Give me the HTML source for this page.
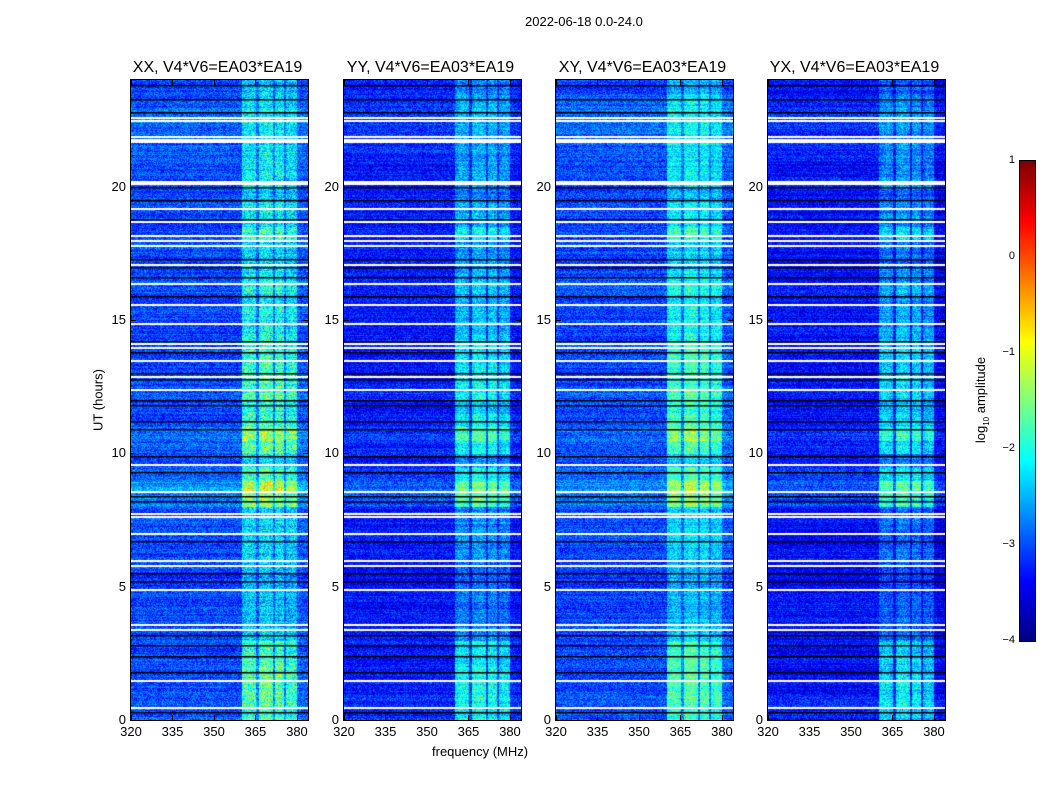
<!DOCTYPE html>
<html><head><meta charset="utf-8">
<style>
body{margin:0;background:#fff;font-family:"Liberation Sans",sans-serif;}
#root{position:relative;width:1050px;height:800px;overflow:hidden;background:#fff;}
.t{position:absolute;font-size:13px;color:#000;white-space:nowrap;}
.title{position:absolute;font-size:16px;white-space:nowrap;transform:translateX(-50%);}
canvas{position:absolute;}
</style></head>
<body><div id="root">
<div class="t" style="left:525px;top:14px;">2022-06-18 0.0-24.0</div>
<div class="t" style="left:432px;top:744px;">frequency (MHz)</div>
<div class="t" style="left:98px;top:400px;transform:translate(-50%,-50%) rotate(-90deg);">UT (hours)</div>
<div class="t" style="left:982px;top:400px;transform:translate(-50%,-50%) rotate(-90deg);">log<sub style="font-size:8px">10</sub> amplitude</div>
</div>
<script>
// ---- data ----
const pols = ["XX","YY","XY","YX"];
const polBg = [-3.05,-3.3,-3.05,-3.35];
const polBand = [0,-0.1,0,-0.2];
// frequency bins: 320..383 MHz, 1 MHz each, band offset above background
const freqBand = [0,0,0,0,0,0,0,0,0,0,0,0,0,0,0,0,0,0,0,0,0,0,0,0,0,0,0,0,0,0,0,0,0,0,0,0,0,0,0,0,
  1.1,1.2,1.2,1.2,1.1,0.3,1.2,1.3,1.3,1.3,1.2,0.3,1.2,1.25,1.2,0.3,1.0,1.1,1.1,1.0,0.15,0.1,0.1,0.05];
// time profile, half-hour steps from 0h to 24h
const bandTime = [0.9,1.0,1.1,1.1,1.0,1.0,0.6,0.5,0.5,0.5,0.5,0.5,0.6,0.6,0.6,0.6,1.1,1.2,0.9,0.6,1.0,1.2,1.0,0.9,
  1.0,1.0,1.0,1.0,0.9,0.8,0.8,0.7,0.8,0.7,0.6,0.6,1.0,0.7,0.7,0.5,0.7,0.7,0.6,0.6,0.6,0.6,0.6,0.5];
const bgTime = [0.1,0.1,0,0,0,0,0,0,0,0,-0.1,0,0,0,0,0,0.3,0.4,0.2,0,0.1,0.2,0,0,0.1,0,0,0,0,0,0,0,0.1,0,0,0,0,0,0,0,0,0,0.1,0.1,0.2,0.2,0.1,0];
const whiteGaps = [0.5,1.5,3.4,3.6,4.9,5.8,6.0,7.0,7.65,7.75,8.6,9.6,12.4,12.9,13.5,14.0,14.15,14.9,15.6,16.4,17.1,17.8,18.0,18.2,18.7,19.2,20.15,20.2,21.7,21.8,21.9,22.5,22.6];
const blackLines = [0.3,1.8,2.4,2.8,3.2,5.2,5.5,6.7,8.2,8.4,9.3,9.6,9.9,10.9,11.2,11.8,12.0,12.8,13.0,13.8,14.2,15.9,16.6,17.0,17.3,18.8,19.5,20.0,22.8,23.3,23.8];
const xTicks = [320,335,350,365,380];
const yTicks = [0,5,10,15,20];
const cbTicks = [1,0,-1,-2,-3,-4];
// ---- layout ----
const root=document.getElementById('root');
const panelX=[131,344,556,768], PW=177, PT=80, PH=640;
const fx=f=>(f-320)/64*PW;            // MHz -> px in panel
const hy=h=>PH-h/24*PH;               // hour -> px in panel
function jet(v){let t=Math.max(0,Math.min(1,(v+4)/5));let r,g,b;
 if(t<0.125){r=0;g=0;b=0.5+4*t}else if(t<0.375){r=0;g=4*t-0.5;b=1}else if(t<0.625){r=4*t-1.5;g=1;b=2.5-4*t}else if(t<0.875){r=1;g=3.5-4*t;b=0}else{r=4.5-4*t;g=0;b=0}
 return [r*255|0,g*255|0,b*255|0];}
function hash(a,b){let h=(a*374761393+b*668265263)|0;h=(h^(h>>>13))*1274126177|0;return ((h^(h>>>16))>>>0)/4294967296;}
function mk(tag,css,name){const e=document.createElement(tag);e.style.cssText=css;root.appendChild(e);return e;}
pols.forEach((p,pi)=>{
 const x0=panelX[pi];
 const c=mk('canvas',`left:${x0}px;top:${PT}px;`);
 
 
 c.width=PW;c.height=PH;const ctx=c.getContext('2d');const img=ctx.createImageData(PW,PH);
 for(let y=0;y<PH;y++){const h=24*(PH-y)/PH;const ti=Math.min(47,Math.floor(h*2));
  const rowN=(hash(y,pi+7)-0.5)*0.35;
  for(let x=0;x<PW;x++){const fi=Math.min(freqBand.length-1,Math.floor(x/PW*64));
   let v=polBg[pi]+bgTime[ti]+rowN+(hash(x+pi*1000,y)-0.5)*0.8;
   if(freqBand[fi]>0)v+=(freqBand[fi]*bandTime[ti]+polBand[pi])*(0.8+0.4*hash(x,y+pi*999));
   const col=jet(v);const k=(y*PW+x)*4;img.data[k]=col[0];img.data[k+1]=col[1];img.data[k+2]=col[2];img.data[k+3]=255;}}
 ctx.putImageData(img,0,0);
 ctx.fillStyle='#000';blackLines.forEach(h=>ctx.fillRect(0,Math.round(hy(h)),PW,1.5));
 ctx.fillStyle='#fff';whiteGaps.forEach(h=>ctx.fillRect(0,Math.round(hy(h)),PW,2));
 const fr=mk('div',`position:absolute;left:${x0-1}px;top:${PT-1}px;width:${PW}px;height:${PH}px;border:1px solid #000;`);
 
 
 const tt=mk('div',`left:${x0+PW/2-2}px;top:${PT-21}px;`);tt.className='title';tt.textContent=p+', V4*V6=EA03*EA19';
 
 
 xTicks.forEach(f=>{const px=x0+fx(f);
  mk('div',`position:absolute;left:${px}px;top:${PT+PH-5}px;width:1px;height:5px;background:#000`);
  mk('div',`position:absolute;left:${px}px;top:${PT}px;width:1px;height:5px;background:#000`);
  const l=mk('div',`left:${px}px;top:${PT+PH+4}px;transform:translateX(-50%)`);l.className='t';l.textContent=f;
  
  });
 yTicks.forEach(h=>{const py=PT+hy(h);
  mk('div',`position:absolute;left:${x0}px;top:${py}px;width:5px;height:1px;background:#000`);
  mk('div',`position:absolute;left:${x0+PW-5}px;top:${py}px;width:5px;height:1px;background:#000`);
  const l=mk('div',`left:${x0-5}px;top:${py-8}px;transform:translateX(-100%)`);l.className='t';l.textContent=h;
  
  });
});
// colorbar
const CBX=1019,CBY=160,CBW=15,CBH=480;
const cb=mk('canvas',`left:${CBX}px;top:${CBY}px;border:1px solid #000;`);


cb.width=CBW;cb.height=CBH;const cc=cb.getContext('2d');
for(let y=0;y<CBH;y++){const col=jet(1-5*y/CBH);cc.fillStyle=`rgb(${col})`;cc.fillRect(0,y,CBW,1);}
cbTicks.forEach(v=>{const py=CBY+(1-v)/5*CBH;
 const l=mk('div',`left:${CBX-4}px;top:${py-6}px;transform:translateX(-100%);font-size:11px`);l.className='t';l.textContent=String(v).replace('-','\u2212');
 
 });
</script>
</body></html>
